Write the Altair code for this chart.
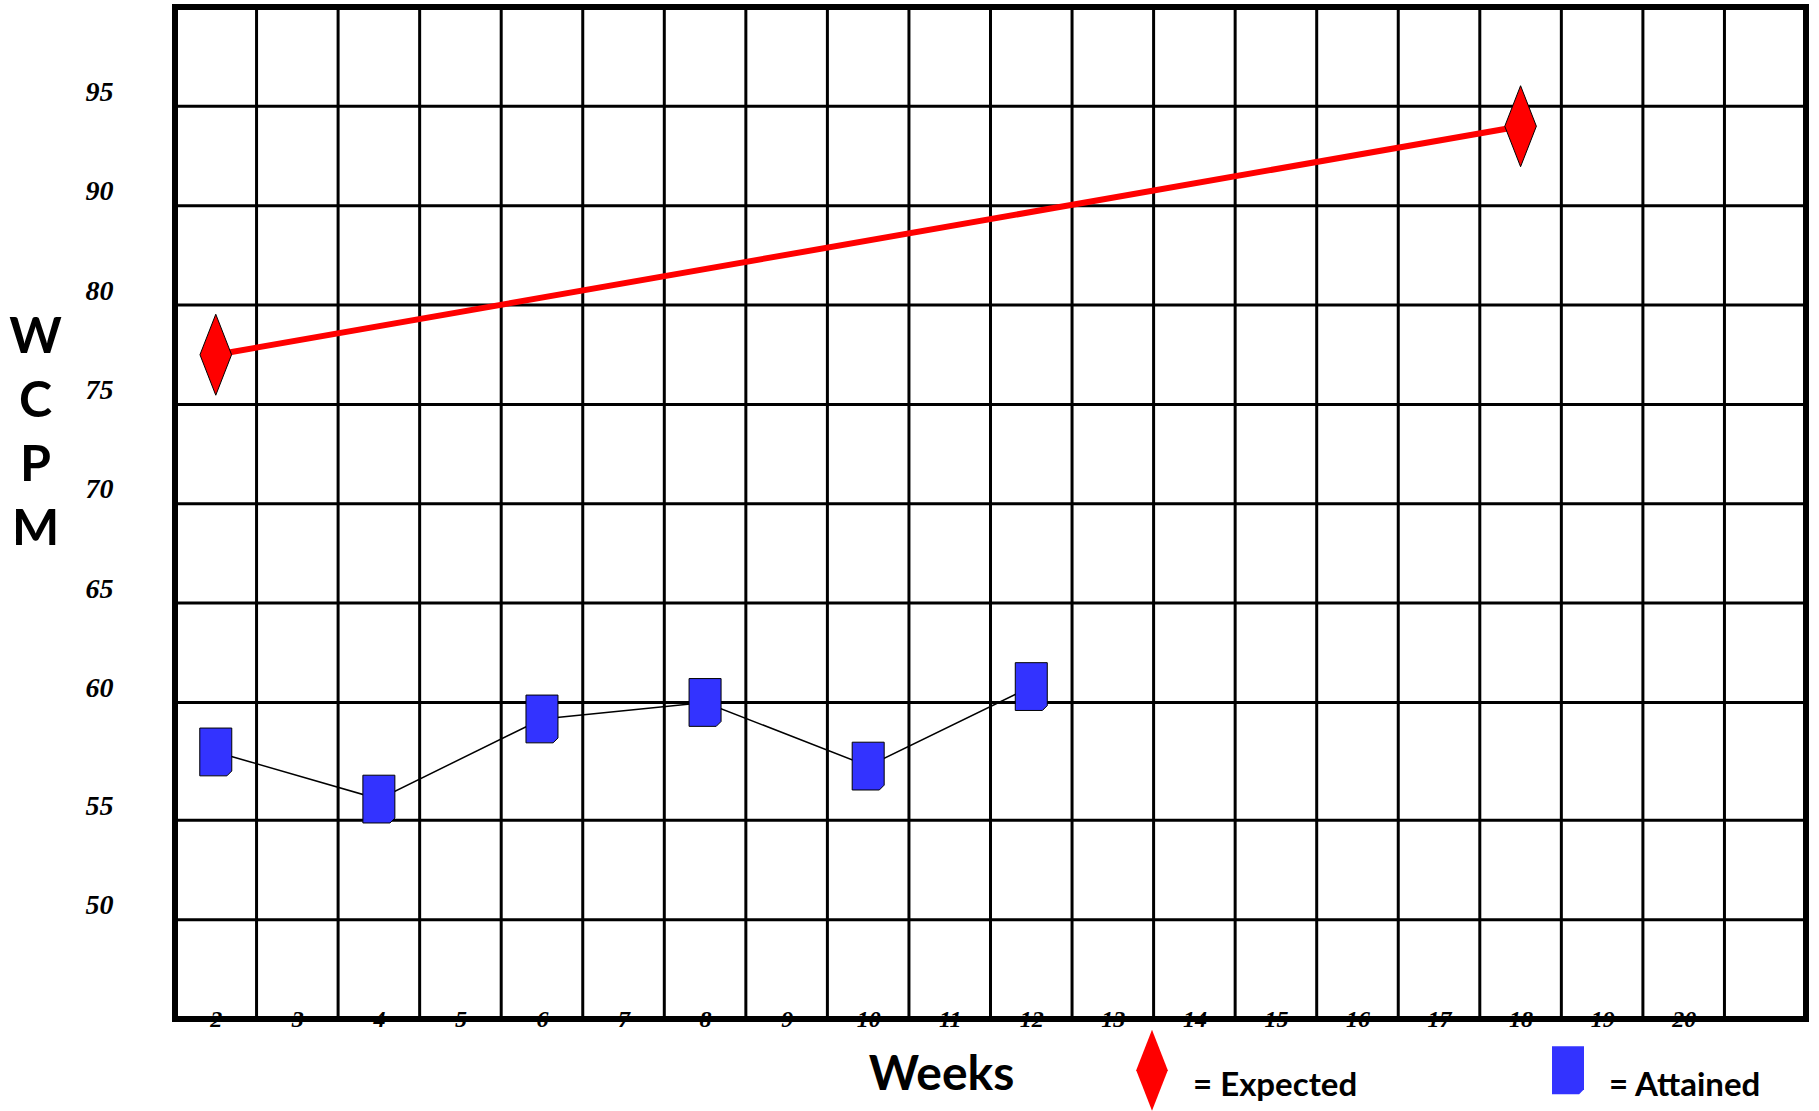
import altair as alt
import pandas as pd

# ---- data ----
weeks = list(range(2, 21))                      # labelled week columns
expected_weeks = [2, 18]
expected_wcpm = [77.5, 94.0]
attained_weeks = [2, 4, 6, 8, 10, 12]
attained_wcpm = [57.9, 55.9, 59.3, 60.0, 57.3, 60.8]
wcpm_ticks = [50, 55, 60, 65, 70, 75, 80, 90, 95]
wcpm_rows = [45, 50, 55, 60, 65, 70, 75, 80, 90, 95, 100]   # row boundaries of the grid
series = ["Expected", "Attained"]

# ---- layout ----
W, H = 1631, 1012
row_weights = [1, 1, 1.186, 1, 1, 1, 1, 1, 1, 1]   # bottom to top; the 55-60 row is taller
tot = sum(row_weights)
y_range = [H]
acc = 0
for wgt in row_weights:
    acc += wgt
    y_range.append(H - H * acc / tot)

grid_x = [w + 0.5 for w in weeks]
grid_y = wcpm_ticks

x_scale = alt.Scale(domain=[weeks[0] - 0.5, weeks[-1] + 1.5], nice=False, zero=False)
y_scale = alt.Scale(domain=wcpm_rows, range=y_range, nice=False, zero=False)

diamond = "M0,-1L0.39,0L0,1L-0.39,0Z"
note = "M0,-1M0,1M-0.395,-0.59L0.395,-0.59L0.395,0.47L0.275,0.59L-0.395,0.59Z"

x_axis = alt.Axis(
    values=weeks, title="Weeks", format="d",
    titleX=766, titleY=56, titleBaseline="middle", titleAlign="center",
    titleFont="Lato", titleFontWeight="bold", titleFontSize=48, titleColor="black",
    labelFont="Liberation Serif", labelFontStyle="italic", labelFontWeight="bold",
    labelFontSize=24, labelColor="black", labelBaseline="middle", labelPadding=0,
    labelAngle=0, labelOverlap=False, labelFlush=False,
    ticks=False, domain=False, grid=False,
)
y_axis = alt.Axis(
    values=wcpm_ticks, title=["W", "C", "P", "M"], format="d",
    titleAngle=0, titleAlign="center", titleBaseline="top", titleX=-140, titleY=305,
    titleFont="Lato", titleFontWeight="bold", titleFontSize=50, titleLineHeight=64,
    titleColor="black",
    labelFont="Liberation Serif", labelFontStyle="italic", labelFontWeight="bold",
    labelFontSize=28, labelColor="black", labelPadding=62, labelOffset=-14,
    labelOverlap=False, labelFlush=False,
    ticks=False, domain=False, grid=False,
)

exp_df = pd.DataFrame({"week": expected_weeks, "wcpm": expected_wcpm, "series": "Expected"})
att_df = pd.DataFrame({"week": attained_weeks, "wcpm": attained_wcpm, "series": "Attained"})
pts_df = pd.concat([exp_df, att_df], ignore_index=True)

X = alt.X("week:Q", scale=x_scale, axis=x_axis)
Y = alt.Y("wcpm:Q", scale=y_scale, axis=y_axis)

vgrid = alt.Chart(pd.DataFrame({"week": grid_x})).mark_rule(color="black", strokeWidth=3).encode(x=X)
hgrid = alt.Chart(pd.DataFrame({"wcpm": grid_y})).mark_rule(color="black", strokeWidth=3).encode(y=Y)
red_line = alt.Chart(exp_df).mark_line(color="#FF0000", strokeWidth=6).encode(x=X, y=Y)
black_line = alt.Chart(att_df).mark_line(color="black", strokeWidth=1.5).encode(x=X, y=Y)

legend = alt.Legend(
    orient="none", legendX=936, legendY=1022, direction="horizontal", title=None,
    symbolSize=6561, symbolStrokeColor="black", symbolStrokeWidth=1, symbolOpacity=1,
    labelFont="Lato", labelFontWeight="bold", labelFontSize=33, labelColor="black",
    labelBaseline="top",
    labelExpr="'= ' + datum.label", columnPadding=169, labelOffset=0, padding=0,
    labelLimit=400,
)

points = alt.Chart(pts_df).mark_point(
    filled=True, opacity=1, stroke="black", strokeWidth=1, size=6561
).encode(
    x=X, y=Y,
    color=alt.Color("series:N", scale=alt.Scale(domain=series, range=["#FF0000", "#3333FF"]),
                    legend=legend),
    shape=alt.Shape("series:N", scale=alt.Scale(domain=series, range=[diamond, note]),
                    legend=legend),
)

chart = alt.layer(vgrid, hgrid, red_line, black_line, points).properties(
    width=W, height=H,
    padding={"left": 175, "top": 7, "right": 13, "bottom": 92},
    autosize=alt.AutoSizeParams(type="none"),
    background="white",
).configure_view(stroke="black", strokeWidth=6)

chart.save("out.html", embed_options={"renderer": "svg", "actions": False})
